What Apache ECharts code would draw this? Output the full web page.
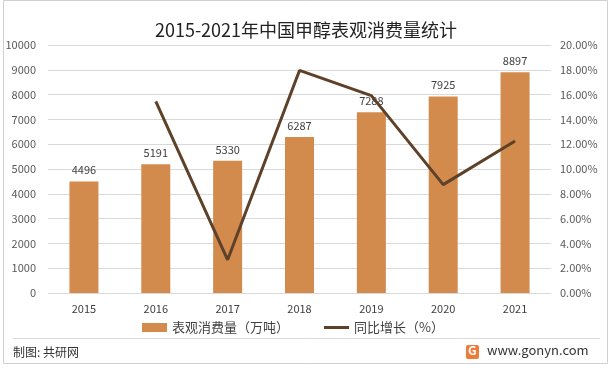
<!DOCTYPE html>
<html><head><meta charset="utf-8">
<script src="https://cdn.jsdelivr.net/npm/echarts@6/dist/echarts.min.js"></script>
<style>html,body{margin:0;padding:0;background:#fff}#c{width:612px;height:371px}</style>
</head><body><div id="c"></div>
<script>
const years = ['2015','2016','2017','2018','2019','2020','2021'];
const consumption = [4496, 5191, 5330, 6287, 7288, 7925, 8897];
const growth = [null, 15.46, 2.68, 17.95, 15.92, 8.74, 12.26];
const leftTicks = [0, 10000, 1000];
const rightTicks = [0, 20, 2];

const font = '"Noto Sans CJK SC", "Noto Sans", sans-serif';
const chart = echarts.init(document.getElementById('c'));
chart.setOption({
  backgroundColor: '#fff',
  animation: false,
  textStyle: {fontFamily: font},
  title: {text: '2015-2021年中国甲醇表观消费量统计', left: 'center', top: 16,
    textStyle: {fontSize: 18, fontWeight: 'normal', color: '#222', fontFamily: font}},
  legend: {left: 137, bottom: 32, itemGap: 35, itemWidth: 25, itemHeight: 9,
    textStyle: {fontSize: 13, color: '#404040', fontFamily: font},
    data: [{name: '表观消费量（万吨）', icon: 'rect'},
           {name: '同比增长（%）', icon: 'path://M0,0H25V3H0Z', itemStyle: {color: '#5E4129'}}]},
  grid: {left: 48, right: 61, top: 45, bottom: 78},
  xAxis: {type: 'category', data: years,
    axisLine: {show: false}, axisTick: {show: false},
    axisLabel: {color: '#404040', fontSize: 11, margin: 10, fontFamily: font}},
  yAxis: [
    {type: 'value', min: leftTicks[0], max: leftTicks[1], interval: leftTicks[2],
     axisLine: {show: false}, axisTick: {show: false},
     splitLine: {lineStyle: {color: '#d9d9d9'}},
     axisLabel: {color: '#595959', fontSize: 11, margin: 12, fontFamily: font,
       formatter: v => String(v)}},
    {type: 'value', min: rightTicks[0], max: rightTicks[1], interval: rightTicks[2],
     axisLine: {show: false}, axisTick: {show: false}, splitLine: {show: false},
     axisLabel: {color: '#595959', fontSize: 11, margin: 9, fontFamily: font,
       formatter: v => v.toFixed(2) + '%'}}
  ],
  series: [
    {name: '表观消费量（万吨）', type: 'bar', data: consumption, barWidth: 29,
     itemStyle: {color: '#D38B4D'},
     label: {show: true, position: 'top', color: '#404040', fontSize: 11, distance: 6, fontFamily: font}},
    {name: '同比增长（%）', type: 'line', yAxisIndex: 1, data: growth,
     symbol: 'none', lineStyle: {color: '#5E4129', width: 3}, itemStyle: {color: '#5E4129'}}
  ],
  graphic: [
    {type: 'rect', shape: {x: 3.5, y: 0.5, width: 604, height: 363}, style: {fill: 'none', stroke: '#d0d0d0', lineWidth: 1}, silent: true},
    {type: 'line', shape: {x1: 13, y1: 338.5, x2: 600, y2: 338.5}, style: {stroke: '#d9d9d9', lineWidth: 1}},
    {type: 'text', left: 13, top: 346, style: {text: '制图: 共研网', fontSize: 12, fill: '#333', fontFamily: font}},
    {type: 'rect', shape: {x: 466, y: 345, width: 13, height: 14, r: 2}, style: {fill: '#F07A3A'}},
    {type: 'text', left: 468, top: 344, style: {text: 'G', fontSize: 12, fontWeight: 'bold', fill: '#fff', fontFamily: font}},
    {type: 'text', left: 487, top: 344, style: {text: 'www.gonyn.com', fontSize: 13, fill: '#333', fontFamily: font}}
  ]
});
</script></body></html>
